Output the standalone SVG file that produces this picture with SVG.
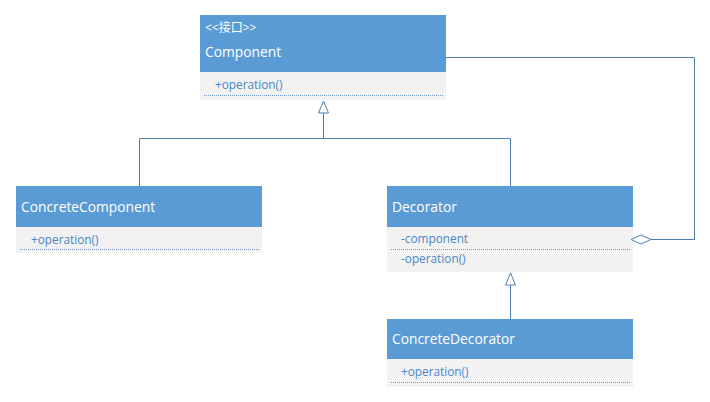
<svg xmlns="http://www.w3.org/2000/svg" width="710" height="402" viewBox="0 0 710 402">
<style>
.hd{fill:#5b9bd5}
.bd{fill:#f2f2f2}
.t{font-family:"Open Sans","Noto Sans CJK SC",sans-serif;font-size:13.8px;fill:#ffffff}
.s{font-family:"Open Sans","Noto Sans CJK SC",sans-serif;font-size:12px;fill:#ffffff}
.m{font-family:"Open Sans",sans-serif;font-size:11.8px;fill:#4a86c8}
.dl{stroke:#6f9bc8;stroke-width:1;stroke-dasharray:1,1}
.c{fill:none;stroke:#4f7fb0;stroke-width:1}
</style>
<defs>
<marker id="tri" viewBox="0 0 13 12" refX="12.5" refY="6" markerWidth="13" markerHeight="12" markerUnits="userSpaceOnUse" orient="auto">
<path d="M12.5,6 L0.5,1 L0.5,11 Z" fill="#ffffff" stroke="#4f7fb0"/>
</marker>
</defs>
<rect width="710" height="402" fill="#ffffff"/>
<g id="Component">
<rect class="hd" x="200" y="15" width="246" height="57"/>
<rect class="bd" x="200" y="72" width="246" height="28"/>
<text class="s" x="205" y="32">&lt;&lt;接口&gt;&gt;</text>
<text class="t" x="205" y="57">Component</text>
<text class="m" x="215" y="89">+operation()</text>
<line class="dl" x1="204" y1="95.5" x2="444" y2="95.5"/>
</g>
<g id="ConcreteComponent">
<rect class="hd" x="16" y="186" width="246" height="41"/>
<rect class="bd" x="16" y="227" width="246" height="26"/>
<text class="t" x="21" y="212">ConcreteComponent</text>
<text class="m" x="31" y="244">+operation()</text>
<line class="dl" x1="20" y1="249.5" x2="260" y2="249.5"/>
</g>
<g id="Decorator">
<rect class="hd" x="387" y="186" width="246" height="41"/>
<rect class="bd" x="387" y="227" width="246" height="45"/>
<text class="t" x="392" y="212">Decorator</text>
<text class="m" x="401" y="243">-component</text>
<line class="dl" x1="391" y1="249.5" x2="631" y2="249.5"/>
<text class="m" x="401" y="263">-operation()</text>
</g>
<g id="ConcreteDecorator">
<rect class="hd" x="387" y="319" width="246" height="40"/>
<rect class="bd" x="387" y="359" width="246" height="28"/>
<text class="t" x="392" y="344">ConcreteDecorator</text>
<text class="m" x="401" y="376">+operation()</text>
<line class="dl" x1="391" y1="382.5" x2="631" y2="382.5"/>
</g>
<g id="connectors">
<path class="c" d="M323.5,138.5 L323.5,101" marker-end="url(#tri)"/>
<path class="c" d="M139.5,186 L139.5,138.5 L510.5,138.5 L510.5,186"/>
<path class="c" d="M510.5,319 L510.5,273" marker-end="url(#tri)"/>
<path class="c" d="M446,57.5 L694.5,57.5 L694.5,239.5 L651,239.5"/>
<path d="M631,239.5 L641,235 L651,239.5 L641,244 Z" fill="#ffffff" stroke="#4f7fb0"/>
</g>
</svg>
